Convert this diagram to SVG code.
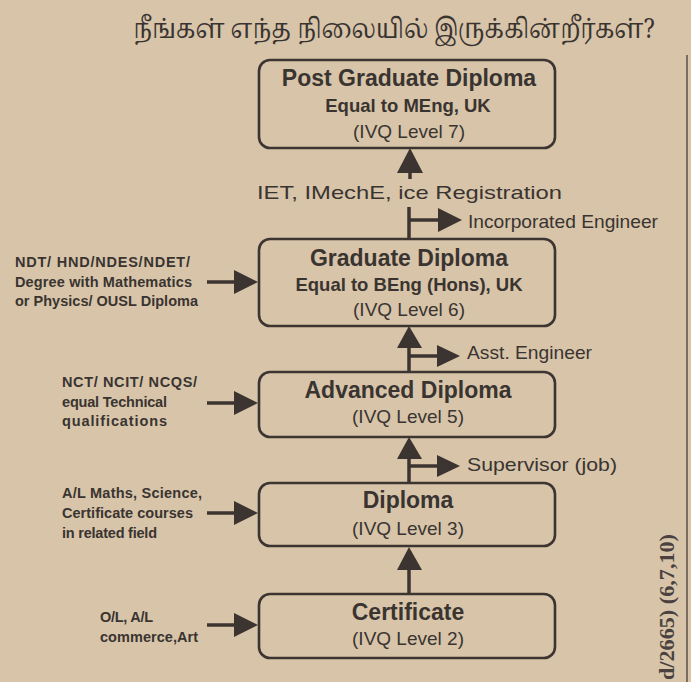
<svg xmlns="http://www.w3.org/2000/svg" width="691" height="682" viewBox="0 0 691 682">
<style>
.bg{fill:#d7c4a9}
.box{fill:none;stroke:#3d3532;stroke-width:2.6}
.ttl{font-family:"Liberation Sans",Arial,sans-serif;font-weight:bold;font-size:23px;fill:#3a3431;text-anchor:middle}
.sub{font-family:"Liberation Sans",Arial,sans-serif;font-weight:bold;font-size:18.5px;fill:#3a3431;text-anchor:middle}
.lvl{font-family:"Liberation Sans",Arial,sans-serif;font-size:19px;fill:#3a3431;text-anchor:middle}
.lab{font-family:"Liberation Sans",Arial,sans-serif;font-size:19px;fill:#3a3431}
.inp{font-family:"Liberation Sans",Arial,sans-serif;font-weight:bold;font-size:14.5px;fill:#3a3431}
.shaft{stroke:#3b3430;stroke-width:3.5;fill:none}
.head{fill:#3b3430}
.tamil{font-family:"Noto Serif Tamil","Noto Sans Tamil","Lohit Tamil",Latha,sans-serif;font-size:27px;fill:#3a3431}
.ref{font-family:"Liberation Serif","Times New Roman",serif;font-weight:bold;font-size:20px;fill:#4a4240}
</style>
<rect class="bg" x="0" y="0" width="691" height="682"/>
<line x1="687" y1="55" x2="687" y2="682" stroke="#5a504a" stroke-width="1.5"/>

<text class="tamil" x="133" y="38" textLength="522" lengthAdjust="spacingAndGlyphs">நீங்கள் எந்த நிலையில் இருக்கின்றீர்கள்?</text>

<g id="pgd">
<rect class="box" x="259" y="60" width="296" height="88" rx="11"/>
<text class="ttl" x="409" y="86">Post Graduate Diploma</text>
<text class="sub" x="408" y="112">Equal to MEng, UK</text>
<text class="lvl" x="409" y="138">(IVQ Level 7)</text>
</g>

<g id="gd">
<rect class="box" x="259" y="239" width="296" height="87" rx="11"/>
<text class="ttl" x="409" y="266">Graduate Diploma</text>
<text class="sub" x="409" y="291">Equal to BEng (Hons), UK</text>
<text class="lvl" x="409" y="316">(IVQ Level 6)</text>
</g>

<g id="ad">
<rect class="box" x="259" y="372" width="296" height="65" rx="11"/>
<text class="ttl" x="408" y="398">Advanced Diploma</text>
<text class="lvl" x="408" y="423">(IVQ Level 5)</text>
</g>

<g id="dip">
<rect class="box" x="259" y="483" width="296" height="63" rx="11"/>
<text class="ttl" x="408" y="508">Diploma</text>
<text class="lvl" x="408" y="535">(IVQ Level 3)</text>
</g>

<g id="cert">
<rect class="box" x="259" y="594" width="296" height="64" rx="11"/>
<text class="ttl" x="408" y="620">Certificate</text>
<text class="lvl" x="408" y="645">(IVQ Level 2)</text>
</g>

<g id="labels">
<text class="lab" x="257" y="199" font-size="22" textLength="305" lengthAdjust="spacingAndGlyphs">IET, IMechE, ice Registration</text>
<text class="lab" x="468" y="228" textLength="190" lengthAdjust="spacingAndGlyphs">Incorporated Engineer</text>
<text class="lab" x="467" y="359" textLength="125" lengthAdjust="spacingAndGlyphs">Asst. Engineer</text>
<text class="lab" x="467" y="471" textLength="150" lengthAdjust="spacingAndGlyphs">Supervisor (job)</text>
</g>

<g id="inputs">
<text class="inp" x="15" y="267" textLength="175">NDT/ HND/NDES/NDET/</text>
<text class="inp" x="15" y="287" textLength="177">Degree with Mathematics</text>
<text class="inp" x="15" y="306" textLength="183">or Physics/ OUSL Diploma</text>
<text class="inp" x="62" y="387" textLength="135">NCT/ NCIT/ NCQS/</text>
<text class="inp" x="62" y="407" textLength="105">equal Technical</text>
<text class="inp" x="62" y="426" textLength="105">qualifications</text>
<text class="inp" x="62" y="498" textLength="140">A/L Maths, Science,</text>
<text class="inp" x="62" y="518" textLength="131">Certificate courses</text>
<text class="inp" x="62" y="538" textLength="95">in related field</text>
<text class="inp" x="100" y="622" textLength="53">O/L, A/L</text>
<text class="inp" x="100" y="642" textLength="98">commerce,Art</text>
</g>

<g id="connectors">
<line class="shaft" x1="410" y1="172" x2="410" y2="179"/>
<polygon class="head" points="410,148 397,173 423,173"/>
<line class="shaft" x1="409" y1="207" x2="409" y2="239"/>
<line class="shaft" x1="409" y1="346" x2="409" y2="372"/>
<polygon class="head" points="409,326 397,348 422,348"/>
<line class="shaft" x1="409" y1="457" x2="409" y2="483"/>
<polygon class="head" points="409,437 397,459 422,459"/>
<line class="shaft" x1="409" y1="568" x2="409" y2="594"/>
<polygon class="head" points="409,547 397,570 422,570"/>
<line class="shaft" x1="409" y1="220" x2="442" y2="220"/>
<polygon class="head" points="462,220 438,208 438,232"/>
<line class="shaft" x1="409" y1="356" x2="440" y2="356"/>
<polygon class="head" points="460,356 437,345 437,367"/>
<line class="shaft" x1="409" y1="466" x2="440" y2="466"/>
<polygon class="head" points="460,466 437,455 437,477"/>
<line class="shaft" x1="207" y1="282" x2="237" y2="282"/>
<polygon class="head" points="258,282 234,270 234,294"/>
<line class="shaft" x1="207" y1="403" x2="237" y2="403"/>
<polygon class="head" points="258,403 234,391 234,415"/>
<line class="shaft" x1="207" y1="513" x2="237" y2="513"/>
<polygon class="head" points="258,513 234,501 234,525"/>
<line class="shaft" x1="207" y1="625" x2="237" y2="625"/>
<polygon class="head" points="258,625 234,613 234,637"/>
</g>

<text class="ref" x="0" y="0" transform="translate(674,680) rotate(-90)" textLength="146" lengthAdjust="spacingAndGlyphs">d/2665) (6,7,10)</text>
</svg>
